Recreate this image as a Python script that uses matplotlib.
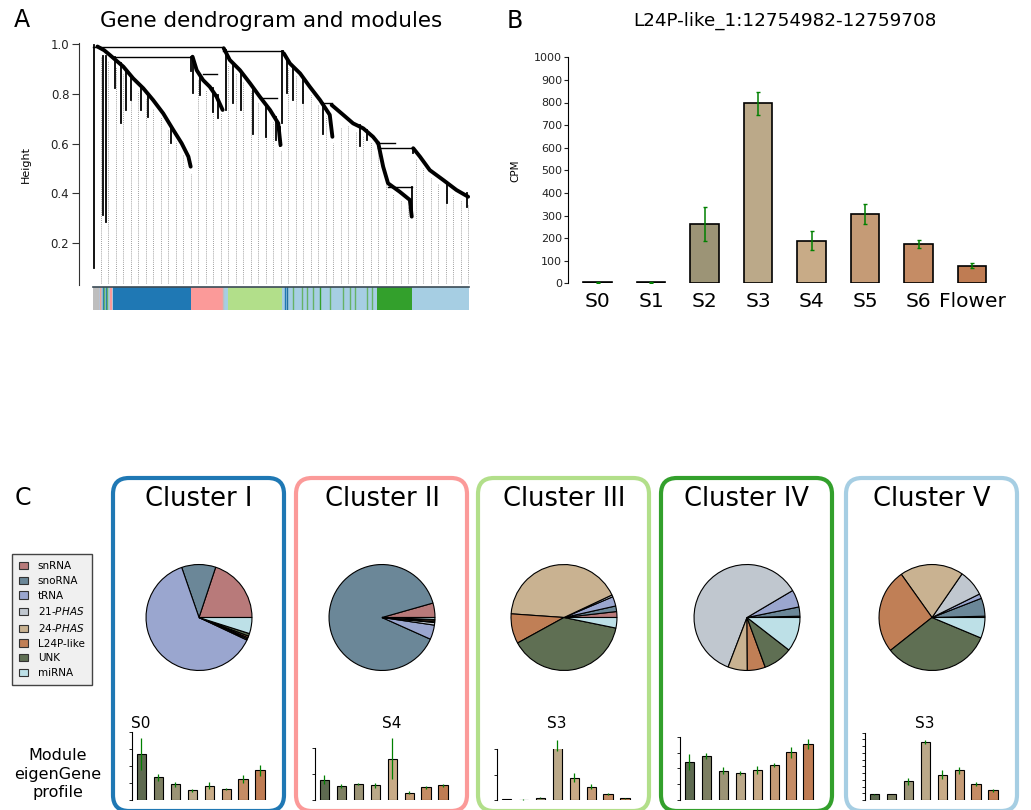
import numpy as np
import matplotlib.pyplot as plt
from matplotlib.patches import Patch, FancyBboxPatch
from matplotlib.transforms import blended_transform_factory

W, H = 1031, 810

# ---------------- data ----------------
# panel A: dendrogram (leaf fraction, height)
chain_blue = [(0.012, 0.990), (0.030, 0.975), (0.045, 0.956), (0.081, 0.909), (0.107, 0.862),
              (0.134, 0.822), (0.160, 0.775), (0.187, 0.721), (0.214, 0.654), (0.236, 0.601),
              (0.254, 0.547), (0.260, 0.507)]
chain_pink = [(0.265, 0.949), (0.276, 0.895), (0.293, 0.855), (0.311, 0.828), (0.329, 0.788),
              (0.345, 0.735)]
chain_lgreen = [(0.348, 0.983), (0.364, 0.936), (0.391, 0.895), (0.418, 0.842), (0.444, 0.788),
                (0.471, 0.735), (0.493, 0.681), (0.499, 0.594)]
chain_lblue1 = [(0.508, 0.962), (0.524, 0.922), (0.551, 0.882), (0.577, 0.828), (0.604, 0.775),
                (0.630, 0.715), (0.637, 0.627)]
chain_lblue2 = [(0.635, 0.755), (0.666, 0.715), (0.692, 0.681), (0.719, 0.661), (0.745, 0.627),
                (0.759, 0.601)]
chain_green = [(0.759, 0.601), (0.772, 0.507), (0.785, 0.440), (0.816, 0.406), (0.843, 0.373),
               (0.848, 0.306)]
chain_tail = [(0.852, 0.581), (0.870, 0.547), (0.896, 0.493), (0.932, 0.453), (0.967, 0.413),
              (0.998, 0.386)]
chains = [chain_blue, chain_pink, chain_lgreen, chain_lblue1, chain_lblue2, chain_green, chain_tail]

# merges: (from, to, height) and drops: (leaf, top, bottom)
merges = [(0.0, 0.347, 0.989), (0.0585, 0.262, 0.949), (0.347, 0.506, 0.973),
          (0.759, 0.852, 0.583), (0.785, 0.848, 0.424), (0.293, 0.329, 0.879),
          (0.444, 0.490, 0.782), (0.607, 0.635, 0.762), (0.754, 0.803, 0.601)]
drops = [(0.0027, 0.997, 0.098), (0.0275, 0.950, 0.313), (0.0346, 0.950, 0.286),
         (0.262, 0.949, 0.890), (0.506, 0.973, 0.962), (0.852, 0.583, 0.560),
         (0.0585, 0.949, 0.822), (0.076, 0.922, 0.681), (0.088, 0.895, 0.735),
         (0.101, 0.869, 0.775), (0.128, 0.822, 0.735), (0.146, 0.795, 0.708),
         (0.209, 0.668, 0.601), (0.267, 0.942, 0.802), (0.285, 0.875, 0.795),
         (0.320, 0.822, 0.728), (0.333, 0.795, 0.701), (0.355, 0.976, 0.735),
         (0.372, 0.922, 0.762), (0.395, 0.882, 0.735), (0.426, 0.828, 0.640),
         (0.461, 0.748, 0.627), (0.488, 0.708, 0.614), (0.497, 0.668, 0.588),
         (0.504, 0.973, 0.681), (0.515, 0.942, 0.802), (0.533, 0.909, 0.775),
         (0.560, 0.869, 0.762), (0.613, 0.762, 0.640), (0.710, 0.675, 0.588),
         (0.728, 0.654, 0.614), (0.848, 0.426, 0.306), (0.941, 0.446, 0.359),
         (0.994, 0.400, 0.346)]

# module colours under the dendrogram
grey, blue, pink = "#bebebe", "#1f78b4", "#fb9a99"
lgreen, green, lblue = "#b2df8a", "#33a02c", "#a6cee3"
block_start = [0.000, 0.016, 0.054, 0.261, 0.345, 0.358, 0.502, 0.754, 0.848]
block_end = [0.016, 0.054, 0.261, 0.345, 0.358, 0.502, 0.754, 0.848, 1.000]
block_color = [grey, lblue, blue, pink, lblue, lgreen, lblue, green, lblue]
stripe_pos = [0.018, 0.021, 0.026, 0.030, 0.034, 0.038, 0.044, 0.049, 0.347,
              0.511, 0.517, 0.533, 0.555, 0.568, 0.586, 0.604, 0.630, 0.666, 0.683,
              0.697, 0.728, 0.741]
stripe_color = [pink, grey, blue, "#66b266", blue, "#66b266", pink, pink, grey,
                blue, "#1f6f9f", "#66b266", "#66b266", "#66b266", "#66b266", green,
                "#66b266", "#66b266", "#66b266", "#66b266", "#66b266", "#66b266"]

# panel B
stages = ["S0", "S1", "S2", "S3", "S4", "S5", "S6", "Flower"]
cpm = [4, 4, 262, 796, 189, 307, 174, 78]
cpm_err = [1, 1, 76, 52, 42, 43, 17, 11]
stage_colors = ["#5e6a50", "#7d7f62", "#9c9476", "#bba989", "#c8ab87", "#c59b76", "#c58c65", "#bf7c53"]

# panel C
categories = ["snRNA", "snoRNA", "tRNA", "21-$\\it{PHAS}$", "24-$\\it{PHAS}$", "L24P-like", "UNK", "miRNA"]
cat_colors = ["#b87a7a", "#6b8798", "#9aa6cf", "#c0c7cf", "#c9b291", "#c07f56", "#5f6f53", "#bde0e7"]
clusters = ["Cluster I", "Cluster II", "Cluster III", "Cluster IV", "Cluster V"]
cluster_colors = [blue, pink, lgreen, green, lblue]
pie_I = [0.199, 0.104, 0.627, 0.004, 0.004, 0.005, 0.008, 0.049]
pie_II = [0.044, 0.889, 0.044, 0.008, 0.002, 0.005, 0.002, 0.006]
pie_III = [0.018, 0.017, 0.029, 0.006, 0.419, 0.091, 0.388, 0.032]
pie_IV = [0.004, 0.028, 0.053, 0.607, 0.059, 0.055, 0.089, 0.105]
pie_V = [0.004, 0.055, 0.014, 0.081, 0.194, 0.258, 0.330, 0.063]
eig_I = [0.68, 0.335, 0.236, 0.143, 0.212, 0.158, 0.31, 0.438]
err_I = [0.23, 0.047, 0.037, 0.02, 0.05, 0.017, 0.06, 0.08]
eig_II = [0.389, 0.268, 0.306, 0.28, 0.79, 0.14, 0.242, 0.28]
err_II = [0.086, 0.04, 0.022, 0.048, 0.39, 0.025, 0.035, 0.032]
eig_III = [0.02, 0.007, 0.046, 1.07, 0.438, 0.261, 0.118, 0.039]
err_III = [0.005, 0.005, 0.01, 0.114, 0.088, 0.052, 0.026, 0.01]
eig_IV = [0.6, 0.695, 0.463, 0.426, 0.479, 0.553, 0.753, 0.884]
err_IV = [0.126, 0.05, 0.058, 0.03, 0.066, 0.026, 0.082, 0.074]
eig_V = [0.084, 0.089, 0.277, 0.866, 0.376, 0.441, 0.233, 0.144]
err_V = [0.005, 0.005, 0.05, 0.03, 0.07, 0.052, 0.03, 0.02]
peak_labels = ["S0", "S4", "S3", None, "S3"]

pies = [pie_I, pie_II, pie_III, pie_IV, pie_V]
eigs = [eig_I, eig_II, eig_III, eig_IV, eig_V]
eig_errs = [err_I, err_II, err_III, err_IV, err_V]

# ---------------- figure ----------------
fig = plt.figure(figsize=(W / 100, H / 100), dpi=100)


def px_axes(left, top, right, bottom):
    return fig.add_axes([left / W, 1 - bottom / H, (right - left) / W, (bottom - top) / H])


def ftext(x, y, s, **kw):
    fig.text(x / W, 1 - y / H, s, ha=kw.pop("ha", "center"), va=kw.pop("va", "center"), **kw)


# overlay in pixel units for the cluster frames
over = fig.add_axes([0, 0, 1, 1], zorder=-1)
over.set_xlim(0, W)
over.set_ylim(H, 0)
over.axis("off")

# ---- A: dendrogram ----
axA = px_axes(79, 43.3, 470, 285)
axA.set_xlim(-0.037, 1.003)
axA.set_ylim(0.031, 1.003)
pts = sorted(p for c in chains for p in c)
env_x = [p[0] for p in pts]
env_y = [p[1] for p in pts]
guides = np.linspace(0.0205, 0.9977, 50)
axA.vlines(guides, 0.038, np.interp(guides, env_x, env_y) - 0.03, colors="#808080",
           linestyles=(0, (1, 1.5)), linewidth=0.6)
for c in chains:
    axA.plot([p[0] for p in c], [p[1] for p in c], color="black", lw=2.8,
             solid_capstyle="round", solid_joinstyle="round")
for x0, x1, h in merges:
    axA.plot([x0, x1], [h, h], color="black", lw=1.0)
for x, h0, h1 in drops:
    axA.plot([x, x], [h0, h1], color="black", lw=1.3)
axA.set_yticks([0.2, 0.4, 0.6, 0.8, 1.0])
axA.set_yticklabels(["0.2", "0.4", "0.6", "0.8", "1.0"], fontsize=8.5, color="#222222")
axA.set_xticks([])
for s in ["top", "right", "bottom"]:
    axA.spines[s].set_visible(False)
axA.spines["left"].set_color("#333333")
axA.tick_params(axis="y", length=5, width=0.8, color="#333333", pad=2)
axA.set_ylabel("Height", fontsize=8, labelpad=14)
axA.patch.set_alpha(0)

axM = px_axes(93, 287.5, 469, 310)
for s, e, c in zip(block_start, block_end, block_color):
    axM.axvspan(s, e, color=c, lw=0)
for x, c in zip(stripe_pos, stripe_color):
    axM.axvline(x, color=c, lw=1.0)
axM.set_xlim(0, 1)
axM.set_ylim(0, 1)
axM.set_xticks([])
axM.set_yticks([])
for s in ["left", "right", "bottom"]:
    axM.spines[s].set_visible(False)
axM.spines["top"].set_color("#3a4a55")
axM.spines["top"].set_linewidth(1.2)

ftext(22, 20, "A", fontsize=17)
ftext(271, 21, "Gene dendrogram and modules", fontsize=15.5)

# ---- B: CPM bar chart ----
axB = px_axes(567.7, 57.3, 1002, 283.3)
xb = np.arange(len(stages))
axB.bar(xb, cpm, width=0.53, color=stage_colors, edgecolor="black", linewidth=1.2)
axB.errorbar(xb, cpm, yerr=cpm_err, fmt="none", ecolor="green", elinewidth=1.1, capsize=1.5)
axB.set_xlim(-0.56, 7.56)
axB.set_ylim(0, 1000)
axB.set_yticks(np.arange(0, 1001, 100))
axB.tick_params(axis="y", labelsize=8, length=3, pad=1, colors="#222222")
axB.set_xticks(xb)
axB.set_xticklabels(stages, fontsize=14.5)
axB.tick_params(axis="x", length=0, pad=6)
for s in ["top", "right", "bottom"]:
    axB.spines[s].set_visible(False)
axB.set_ylabel("CPM", fontsize=7.5, labelpad=10)
ftext(515, 21, "B", fontsize=17)
ftext(785, 21, "L24P-like_1:12754982-12759708", fontsize=13.2)

# ---- C: clusters ----
ftext(23, 498, "C", fontsize=17)
box_left = [113, 296, 478, 661, 846]
spine_top = [732.3, 747.7, 749, 736.7, 732.7]
n_ticks = [5, 3, 3, 5, 11]
for i, name in enumerate(clusters):
    bl = box_left[i]
    over.add_patch(FancyBboxPatch((bl, 478), 171, 333, boxstyle="round,pad=0,rounding_size=16",
                                  fill=False, edgecolor=cluster_colors[i], linewidth=3.0))
    ftext(bl + 86, 499, name, fontsize=18.5)

    axP = px_axes(bl + 86 - 53.5, 617.5 - 53.5, bl + 86 + 53.5, 617.5 + 53.5)
    axP.pie(pies[i], colors=cat_colors, startangle=0, counterclock=True,
            wedgeprops=dict(edgecolor="black", linewidth=0.8))
    axP.set_xlim(-1.01, 1.01)
    axP.set_ylim(-1.01, 1.01)

    axE = px_axes(bl + 18.5, spine_top[i], bl + 18.5 + 137, 800)
    xe = np.arange(len(stages))
    axE.bar(xe, eigs[i], width=0.53, color=stage_colors, edgecolor="black", linewidth=0.8)
    axE.errorbar(xe, eigs[i], yerr=eig_errs[i], fmt="none", ecolor="green", elinewidth=0.9,
                 capsize=0, clip_on=False)
    axE.set_xlim(-0.56, 7.5)
    axE.set_ylim(0, 1)
    axE.set_yticks(np.linspace(0, 1, n_ticks[i]))
    axE.set_yticklabels([])
    axE.set_xticks([])
    axE.tick_params(axis="y", length=2, width=0.6)
    for s in ["top", "right", "bottom"]:
        axE.spines[s].set_visible(False)
    axE.spines["left"].set_linewidth(0.8)
    axE.patch.set_alpha(0)
    if peak_labels[i]:
        tr = blended_transform_factory(axE.transData, fig.transFigure)
        axE.text(int(np.argmax(eigs[i])), 1 - 723 / H, peak_labels[i], transform=tr,
                 ha="center", va="center", fontsize=11)

handles = [Patch(facecolor=c, edgecolor="#333333", linewidth=0.8, label=l)
           for c, l in zip(cat_colors, categories)]
fig.legend(handles=handles, loc="upper left", bbox_to_anchor=(11.7 / W, 1 - 554 / H),
           fontsize=7.5, frameon=True, fancybox=False, edgecolor="#444444", facecolor="#f0f0f0",
           framealpha=1, handlelength=0.9, handleheight=0.7, handletextpad=0.9,
           labelspacing=0.45, borderpad=0.7, borderaxespad=0)

ftext(58, 755, "Module", fontsize=11.5)
ftext(58, 774, "eigenGene", fontsize=11.5)
ftext(58, 793, "profile", fontsize=11.5)

fig.savefig("out.png", dpi=100)
